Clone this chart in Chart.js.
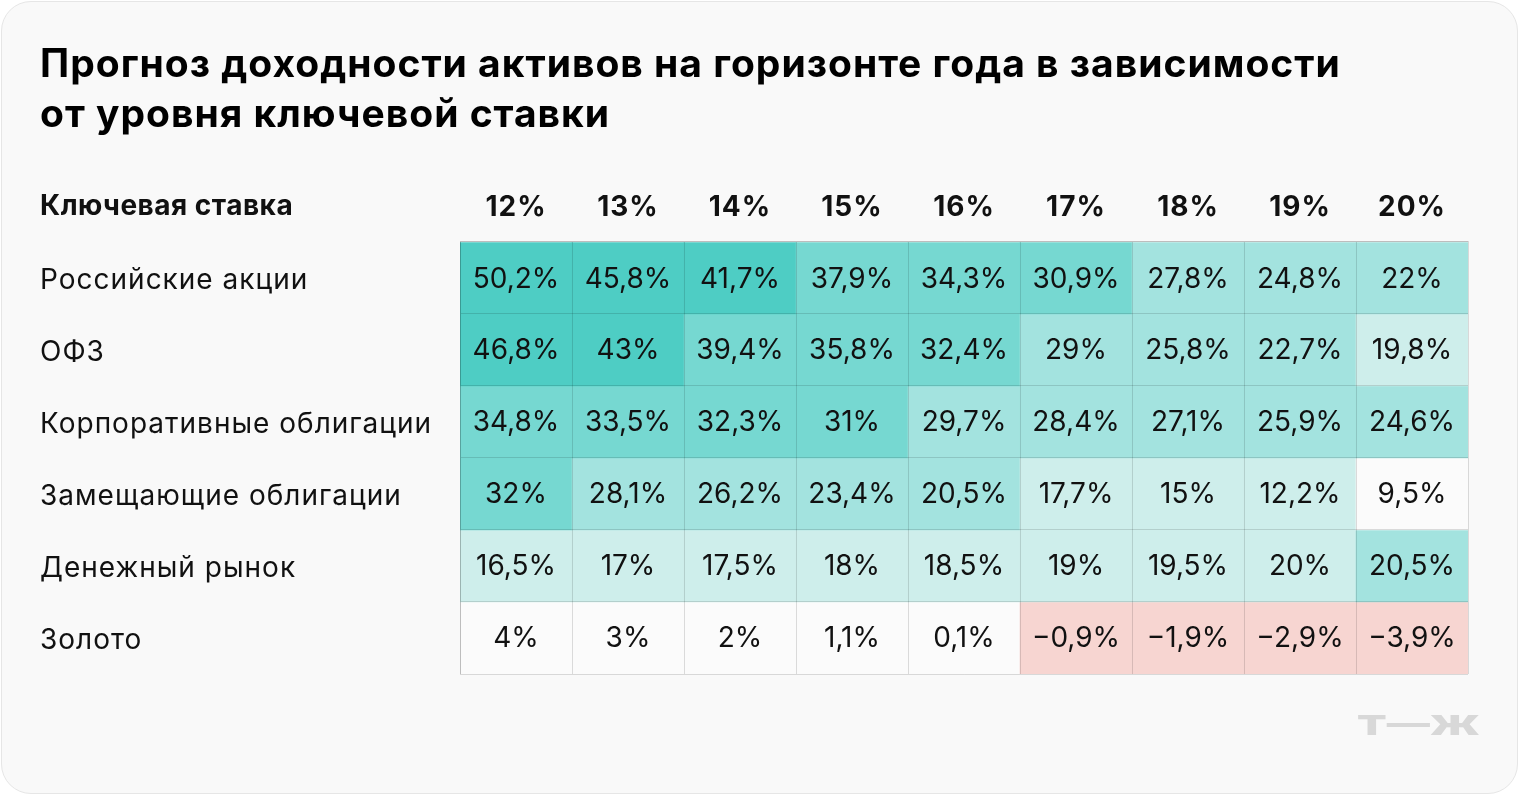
<!DOCTYPE html>
<html>
<head>
<meta charset="utf-8">
<script src="https://cdn.jsdelivr.net/npm/chart.js@4/dist/chart.umd.min.js"></script>
<style>
  html, body { margin: 0; padding: 0; background: #fff; }
  #card {
    position: absolute; left: 1px; top: 1px;
    width: 1515px; height: 791px;
    background: #f9f9f9;
    border: 1.5px solid #e6e6e6;
    border-radius: 30px;
  }
  #wrap { position: absolute; left: 0; top: 0; width: 1520px; height: 796px; }
</style>
</head>
<body>
<div id="card"></div>
<div id="wrap"><canvas id="heatmap" width="1520" height="796"></canvas></div>
<script>
const rateLabels = ['12%', '13%', '14%', '15%', '16%', '17%', '18%', '19%', '20%'];
const assetNames = [
	'Российские акции',
	'ОФЗ',
	'Корпоративные облигации',
	'Замещающие облигации',
	'Денежный рынок',
	'Золото'
];
const russianStocks    = [50.2, 45.8, 41.7, 37.9, 34.3, 30.9, 27.8, 24.8, 22];
const ofz              = [46.8, 43, 39.4, 35.8, 32.4, 29, 25.8, 22.7, 19.8];
const corporateBonds   = [34.8, 33.5, 32.3, 31, 29.7, 28.4, 27.1, 25.9, 24.6];
const replacementBonds = [32, 28.1, 26.2, 23.4, 20.5, 17.7, 15, 12.2, 9.5];
const moneyMarket      = [16.5, 17, 17.5, 18, 18.5, 19, 19.5, 20, 20.5];
const gold             = [4, 3, 2, 1.1, 0.1, -0.9, -1.9, -2.9, -3.9];
const tableRows = [russianStocks, ofz, corporateBonds, replacementBonds, moneyMarket, gold];

const FONT = 'Inter, "Noto Sans", sans-serif';
const gridColor = 'rgba(0,0,0,0.13)';

const cellColor = function(v) {
	if (v < 0) return '#f7d5d1';
	if (v <= 10) return '#fbfbfb';
	if (v <= 20) return '#ceeeeb';
	if (v <= 30) return '#a3e3df';
	if (v <= 40) return '#76d8d1';
	return '#4ecdc4';
}

const formatValue = function(v) {
	return String(v).replace('.', ',').replace('-', '\u2212') + '%';
}

const cellText = {
	id: 'cellText',
	beforeDraw(chart) {
		// the reference typeface runs a little wider than Inter
		chart.ctx.letterSpacing = '1px';
	},
	afterDatasetsDraw(chart) {
		const ctx = chart.ctx;
		ctx.save();
		ctx.letterSpacing = '0px';
		ctx.font = '28px ' + FONT;
		ctx.fillStyle = '#111';
		ctx.textAlign = 'center';
		ctx.textBaseline = 'middle';
		chart.data.datasets.forEach((ds, i) => {
			chart.getDatasetMeta(i).data.forEach((bar, j) => {
				const p = bar.getProps(['x', 'y', 'base'], true);
				ctx.fillText(formatValue(tableRows[i][j]), p.x, (p.y + p.base) / 2 + 1);
			});
		});
		ctx.restore();
	},
	afterDraw(chart) {
		const ctx = chart.ctx;
		const xs = chart.scales.x;
		ctx.save();
		// header of the label column
		ctx.letterSpacing = '0.5px';
		ctx.font = 'bold 28px ' + FONT;
		ctx.fillStyle = '#111';
		ctx.textAlign = 'left';
		ctx.textBaseline = 'middle';
		ctx.fillText('Ключевая ставка', 40, xs.bottom - 19 - 16.8);
		// logo
		ctx.letterSpacing = '0px';
		ctx.font = '900 27px ' + FONT;
		ctx.fillStyle = '#d8d8d8';
		ctx.textAlign = 'right';
		ctx.textBaseline = 'alphabetic';
		ctx.translate(1480, 735);
		ctx.scale(1.6, 1);
		ctx.fillText('Т—Ж', 0, 0);
		ctx.restore();
	}
};

new Chart(document.getElementById('heatmap'), {
	type: 'bar',
	data: {
		labels: rateLabels,
		datasets: tableRows.map((values, i) => ({
			label: assetNames[i],
			data: values.map(() => [i, i + 1]),
			backgroundColor: values.map(cellColor),
			borderWidth: 0,
			barPercentage: 1,
			categoryPercentage: 1,
			grouped: false
		}))
	},
	options: {
		responsive: false,
		animation: false,
		layout: { padding: { left: 40, right: 52, top: 0, bottom: 122 } },
		plugins: {
			legend: { display: false },
			tooltip: { enabled: false },
			title: {
				display: true,
				text: ['Прогноз доходности активов на горизонте года в зависимости', 'от уровня ключевой ставки'],
				align: 'start',
				color: '#000',
				font: { family: FONT, size: 39, weight: 'bold', lineHeight: 1.282 },
				padding: { top: 40, bottom: 0 }
			}
		},
		scales: {
			x: {
				type: 'category',
				position: 'top',
				offset: true,
				grid: { offset: true, color: gridColor, drawTicks: false, z: 1 },
				border: { color: gridColor, z: 1 },
				ticks: {
					color: '#111',
					padding: 18,
					font: { family: FONT, size: 28, weight: 'bold' }
				},
				afterFit(scale) { scale.height = 102; }
			},
			y: {
				type: 'linear',
				min: 0,
				max: 6,
				reverse: true,
				afterBuildTicks(scale) {
					scale.ticks = [];
					for (let k = 0; k <= 6; k++) {
						scale.ticks.push({ value: k });
						if (k < 6) scale.ticks.push({ value: k + 0.53 });
					}
				},
				grid: {
					drawTicks: false,
					z: 1,
					color: (c) => Number.isInteger(c.tick.value) ? gridColor : 'transparent'
				},
				border: { color: gridColor, z: 1 },
				ticks: {
					autoSkip: false,
					crossAlign: 'far',
					color: '#111',
					font: { family: FONT, size: 28 },
					callback: (v) => Number.isInteger(v) ? '' : assetNames[Math.floor(v)]
				},
				afterFit(scale) { scale.width = 420; }
			}
		}
	},
	plugins: [cellText]
});
</script>
</body>
</html>
